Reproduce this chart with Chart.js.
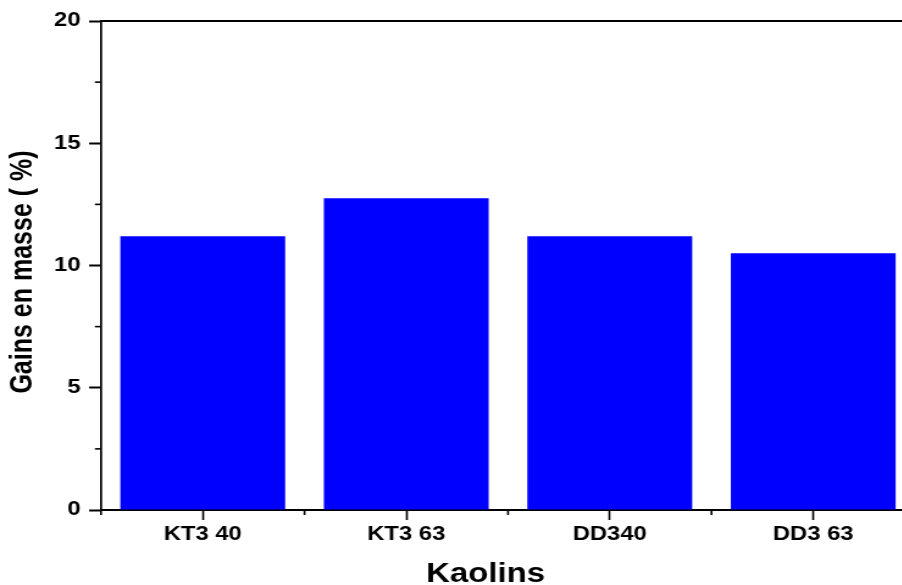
<!DOCTYPE html>
<html>
<head>
<meta charset="utf-8">
<script src="https://cdn.jsdelivr.net/npm/chart.js@4.4.1/dist/chart.umd.min.js"></script>
<style>
  html, body { margin: 0; padding: 0; background: #fff; overflow: hidden; }
  #wrap { width: 902px; height: 585px; overflow: hidden; }
  /* the figure is drawn on a narrower canvas and widened horizontally */
  #c { display: block; transform: scaleX(1.22); transform-origin: 0 0; }
</style>
</head>
<body>
<div id="wrap"><canvas id="c" width="752" height="585"></canvas></div>
<script>
// Mass gain of each kaolin sample
const categories = ['KT3 40', 'KT3 63', 'DD340', 'DD3 63'];
const massGain = [11.2, 12.75, 11.2, 10.5];
const yTicks = [0, 5, 10, 15, 20];
const yMinorTicks = [2.5, 7.5, 12.5, 17.5];

const xTitle = 'Kaolins';
const yTitle = 'Gains en masse ( %)';

const FONT = "'Liberation Sans', Arial, sans-serif";

// Extra axis decorations: minor ticks, top frame line and the axis titles
const axisExtras = {
  id: 'axisExtras',
  afterDraw(chart) {
    const { ctx, chartArea, scales } = chart;
    const x = scales.x, y = scales.y;
    ctx.save();
    ctx.strokeStyle = '#000';

    // top frame line
    ctx.lineWidth = 2;
    ctx.beginPath();
    ctx.moveTo(chartArea.left, chartArea.top);
    ctx.lineTo(chartArea.right + 5, chartArea.top);
    ctx.stroke();

    // y minor ticks
    ctx.lineWidth = 1.6;
    yMinorTicks.forEach(v => {
      const py = y.getPixelForValue(v);
      ctx.beginPath();
      ctx.moveTo(chartArea.left - 5, py);
      ctx.lineTo(chartArea.left, py);
      ctx.stroke();
    });

    // x minor ticks on category boundaries
    ctx.lineWidth = 1.6;
    const half = (x.getPixelForValue(1) - x.getPixelForValue(0)) / 2;
    for (let i = 0; i <= categories.length; i++) {
      const px = x.getPixelForValue(i) - half;
      ctx.beginPath();
      ctx.moveTo(px, chartArea.bottom);
      ctx.lineTo(px, chartArea.bottom + 5);
      ctx.stroke();
    }

    // axis titles
    ctx.fillStyle = '#000';
    ctx.textAlign = 'center';
    ctx.textBaseline = 'middle';
    ctx.font = "bold 27px " + FONT;
    ctx.fillText(xTitle, 398, 575);

    ctx.font = "bold 25px " + FONT;
    ctx.translate(19, 272);
    ctx.rotate(-Math.PI / 2);
    ctx.fillText(yTitle, 0, 0);
    ctx.restore();
  }
};

new Chart(document.getElementById('c'), {
  type: 'bar',
  data: {
    labels: categories,
    datasets: [{
      data: massGain,
      backgroundColor: '#0000ff',
      borderWidth: 0,
      categoryPercentage: 1.0,
      barPercentage: 0.81
    }]
  },
  options: {
    responsive: false,
    animation: false,
    devicePixelRatio: 1,
    layout: { padding: { top: 21, right: 2, left: 0, bottom: 0 } },
    plugins: { legend: { display: false }, tooltip: { enabled: false } },
    scales: {
      x: {
        afterFit(scale) { scale.height = 75; },
        grid: {
          offset: false,
          drawOnChartArea: false,
          drawTicks: true,
          tickLength: 10,
          tickWidth: 1.6,
          tickColor: '#000'
        },
        border: { display: true, color: '#000', width: 2 },
        ticks: {
          color: '#000',
          padding: 3,
          maxRotation: 0,
          font: { family: FONT, size: 19.5, weight: 'bold' }
        }
      },
      y: {
        min: 0,
        max: 20,
        afterFit(scale) { scale.width = 82.8; },
        afterBuildTicks(scale) { scale.ticks = yTicks.map(v => ({ value: v })); },
        grid: {
          drawOnChartArea: false,
          drawTicks: true,
          tickLength: 9.8,
          tickWidth: 2,
          tickColor: '#000'
        },
        border: { display: true, color: '#000', width: 1.7 },
        ticks: {
          color: '#000',
          padding: 7,
          font: { family: FONT, size: 19.5, weight: 'bold' }
        }
      }
    }
  },
  plugins: [axisExtras]
});
</script>
</body>
</html>
